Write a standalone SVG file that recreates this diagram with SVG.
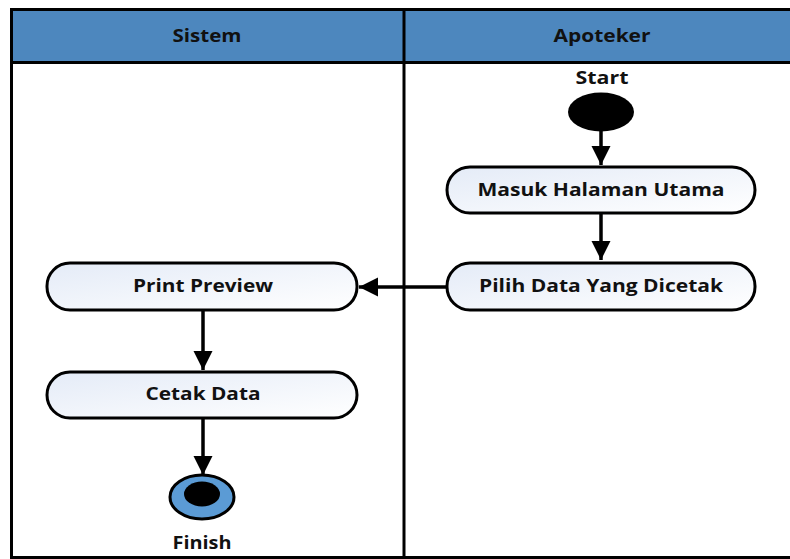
<svg xmlns="http://www.w3.org/2000/svg" width="790" height="559" viewBox="0 0 790 559">
<defs>
<linearGradient id="boxfill" x1="0" y1="0" x2="1" y2="1">
<stop offset="0" stop-color="#e4ebf7"/>
<stop offset="1" stop-color="#ffffff"/>
</linearGradient>
<marker id="arr" viewBox="0 0 10 10" refX="10" refY="5" markerWidth="5.5" markerHeight="5.5" orient="auto" markerUnits="strokeWidth">
<path d="M0,0 L10,5 L0,10 z" fill="#000"/>
</marker>
</defs>
<style>
.lane{fill:#fff;stroke:#000;stroke-width:3}
.head{fill:#4d87be;stroke:#000;stroke-width:3}
.box{fill:url(#boxfill);stroke:#000;stroke-width:3}
.t{font-family:"Open Sans","Noto Sans",sans-serif;font-weight:bold;font-size:17.5px;fill:#111;text-anchor:middle}
.conn{stroke:#000;stroke-width:3.5;fill:none;marker-end:url(#arr)}
</style>
<g id="swimlanes">
<rect class="lane" x="11.5" y="9.5" width="790" height="548"/>
<rect class="head" x="11.5" y="9.5" width="790" height="53"/>
<line x1="404" y1="9.5" x2="404" y2="559" stroke="#000" stroke-width="3"/>
<text class="t" x="207" y="42" textLength="69" lengthAdjust="spacingAndGlyphs">Sistem</text>
<text class="t" x="602" y="42" textLength="97" lengthAdjust="spacingAndGlyphs">Apoteker</text>
</g>
<g id="connectors">
<path class="conn" d="M601,131 L601,165"/>
<path class="conn" d="M601,213 L601,260"/>
<path class="conn" d="M447,287 L359,287"/>
<path class="conn" d="M203,310 L203,370"/>
<path class="conn" d="M203,418 L203,475"/>
</g>
<g id="start">
<text class="t" x="602" y="84" textLength="53" lengthAdjust="spacingAndGlyphs">Start</text>
<ellipse cx="601" cy="112" rx="33" ry="19.5" fill="#000"/>
</g>
<g id="masuk">
<rect class="box" x="447" y="167" width="308" height="46" rx="23"/>
<text class="t" x="601" y="196" textLength="247" lengthAdjust="spacingAndGlyphs">Masuk Halaman Utama</text>
</g>
<g id="pilih">
<rect class="box" x="447" y="263" width="308" height="47" rx="23"/>
<text class="t" x="601" y="292" textLength="244" lengthAdjust="spacingAndGlyphs">Pilih Data Yang Dicetak</text>
</g>
<g id="print">
<rect class="box" x="47" y="263" width="310" height="47" rx="23"/>
<text class="t" x="203" y="292" textLength="140" lengthAdjust="spacingAndGlyphs">Print Preview</text>
</g>
<g id="cetak">
<rect class="box" x="47" y="372" width="310" height="46" rx="23"/>
<text class="t" x="203" y="400" textLength="115" lengthAdjust="spacingAndGlyphs">Cetak Data</text>
</g>
<g id="finish">
<ellipse cx="202" cy="497" rx="32" ry="22" fill="#5b9bd5" stroke="#000" stroke-width="3"/>
<ellipse cx="202" cy="494" rx="18" ry="12.5" fill="#000"/>
<text class="t" x="202" y="549" textLength="59" lengthAdjust="spacingAndGlyphs">Finish</text>
</g>
</svg>
